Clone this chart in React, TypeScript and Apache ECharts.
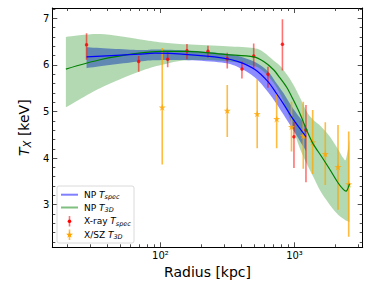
import React, { useEffect, useRef } from 'react';
import * as echarts from 'echarts';

// ---------- data ----------
// X-ray T_spec (red points)
const radiusXray = [28.1, 68.8, 113.2, 157.7, 226.2, 315.1, 405.5, 496.2, 634, 813, 991, 1218];
const tXray = [6.43, 6.07, 6.12, 6.30, 6.29, 6.13, 5.91, 6.19, 5.80, 6.44, 4.46, 4.60];
const tXrayLow = [6.11, 5.85, 5.95, 6.12, 6.16, 5.92, 5.71, 5.93, 5.51, 5.88, 3.79, 3.48];
const tXrayHigh = [6.68, 6.19, 6.27, 6.45, 6.41, 6.26, 6.07, 6.46, 5.96, 6.98, 4.78, 5.14];

// X/SZ T_3D (orange stars)
const radiusXsz = [103.1, 315.1, 526.9, 736.3, 950, 1163, 1367, 1698, 2112, 2538];
const tXsz = [5.09, 5.02, 4.95, 4.84, 4.67, 4.48, 4.34, 4.09, 3.81, 3.44];
const tXszLow = [3.86, 4.45, 4.21, 4.21, 4.14, 3.77, 3.66, 3.42, 2.89, 2.31];
const tXszHigh = [6.36, 5.57, 5.69, 5.39, 5.21, 5.21, 5.03, 4.77, 4.71, 4.57];

// NP T_3D (green line + band)
const radiusNp3d = [19.7, 35.4, 69.1, 102.6, 157.7, 313.5, 496.2, 589, 694.8, 779.6, 874.7, 979.5, 1099, 1233, 1381, 1577, 1841, 2123, 2313, 2423, 2573];
const tNp3d = [5.91, 6.11, 6.25, 6.29, 6.29, 6.22, 6.17, 6.07, 5.90, 5.72, 5.52, 5.25, 4.95, 4.60, 4.30, 4.05, 3.75, 3.46, 3.33, 3.29, 3.45];
const tNp3dHigh = [6.60, 6.66, 6.55, 6.48, 6.44, 6.40, 6.36, 6.27, 6.10, 5.98, 5.80, 5.58, 5.30, 5.00, 4.82, 4.68, 4.46, 4.18, 4.00, 3.98, 4.40];
const tNp3dLow = [5.09, 5.50, 5.85, 6.00, 6.10, 6.08, 5.98, 5.85, 5.62, 5.38, 5.05, 4.62, 4.20, 3.88, 3.60, 3.27, 2.99, 2.78, 2.70, 2.66, 2.63];

// NP T_spec (blue line + band)
const radiusNpSpec = [28.1, 68.8, 91.0, 161.2, 286.2, 380.7, 507, 634, 736, 825, 979, 1218];
const tNpSpec = [6.17, 6.23, 6.25, 6.22, 6.15, 6.07, 5.90, 5.64, 5.38, 5.17, 4.83, 4.46];
const tNpSpecHigh = [6.38, 6.32, 6.33, 6.31, 6.25, 6.19, 6.06, 5.86, 5.60, 5.40, 5.06, 4.70];
const tNpSpecLow = [5.93, 6.07, 6.10, 6.10, 6.05, 5.95, 5.73, 5.42, 5.16, 4.94, 4.60, 4.15];

// ticks
const xMajorTicks = [100, 1000];
const xMinorTicks = [20, 30, 40, 50, 60, 70, 80, 90, 200, 300, 400, 500, 600, 700, 800, 900, 2000, 3000];
const yMajorTicks = [3, 4, 5, 6, 7];
const yMinorTicks = [2.2, 2.4, 2.6, 2.8, 3.2, 3.4, 3.6, 3.8, 4.2, 4.4, 4.6, 4.8, 5.2, 5.4, 5.6, 5.8, 6.2, 6.4, 6.6, 6.8, 7.2];

const X_MIN = 15.6;
const X_MAX = 3228;
const Y_MIN = 2.086;
const Y_MAX = 7.22;

const FONT = 'DejaVu Sans';
const STAR = 'path://M12,0 L14.9,8.1 L23.4,8.3 L16.6,13.5 L19.1,21.7 L12,16.8 L4.9,21.7 L7.4,13.5 L0.6,8.3 L9.1,8.1 Z';

const SUP: Record<string, string> = { '0': '⁰', '1': '¹', '2': '²', '3': '³', '4': '⁴' };

function pairs(xs: number[], ys: number[]) {
  return xs.map((x, i) => [x, ys[i]]);
}

// Catmull-Rom smoothed segments (pixel space) starting from pts[0]
function smoothSegments(pts: number[][]): string {
  let d = '';
  const n = pts.length;
  const k = 0.16;
  for (let i = 0; i < n - 1; i++) {
    const p0 = pts[Math.max(0, i - 1)];
    const p1 = pts[i];
    const p2 = pts[i + 1];
    const p3 = pts[Math.min(n - 1, i + 2)];
    const c1x = p1[0] + (p2[0] - p0[0]) * k;
    const c1y = p1[1] + (p2[1] - p0[1]) * k;
    const c2x = p2[0] - (p3[0] - p1[0]) * k;
    const c2y = p2[1] - (p3[1] - p1[1]) * k;
    d += ` C${c1x},${c1y} ${c2x},${c2y} ${p2[0]},${p2[1]}`;
  }
  return d;
}

function bandSeries(xs: number[], lo: number[], hi: number[], color: string) {
  return {
    type: 'custom',
    data: xs.map((x, i) => [x, lo[i], hi[i]]),
    encode: { x: 0, y: [1, 2] },
    silent: true,
    clip: true,
    renderItem: (params: any, api: any) => {
      if (params.dataIndex !== 0) return null;
      const up = xs.map((x, i) => api.coord([x, hi[i]]));
      const dn = xs.map((x, i) => api.coord([x, lo[i]])).reverse();
      const pathData =
        `M${up[0][0]},${up[0][1]}` + smoothSegments(up) +
        ` L${dn[0][0]},${dn[0][1]}` + smoothSegments(dn) + ' Z';
      return { type: 'path', shape: { pathData }, style: { fill: color, stroke: 'none' } };
    },
  };
}

function errorBars(xs: number[], lo: number[], hi: number[], color: string, width: number) {
  return {
    type: 'custom',
    data: xs.map((x, i) => [x, lo[i], hi[i]]),
    encode: { x: 0, y: [1, 2] },
    silent: true,
    clip: true,
    renderItem: (_p: any, api: any) => {
      const a = api.coord([api.value(0), api.value(1)]);
      const b = api.coord([api.value(0), api.value(2)]);
      return {
        type: 'line',
        shape: { x1: a[0], y1: a[1], x2: b[0], y2: b[1] },
        style: { stroke: color, lineWidth: width },
      };
    },
  };
}

function xAxis(position: 'top' | 'bottom', ticks: number[], len: number, labels: boolean, line: boolean) {
  return {
    type: 'log', logBase: 10, min: X_MIN, max: X_MAX, position,
    axisLine: { show: line, onZero: false, lineStyle: { color: '#000', width: 1 } },
    axisTick: { show: true, inside: true, length: len, customValues: ticks, lineStyle: { color: '#222', width: 0.8 } },
    axisLabel: labels
      ? {
          show: true, customValues: ticks, margin: 3, fontSize: 10, color: '#000', fontFamily: FONT,
          formatter: (v: number) => '10' + SUP[String(Math.round(Math.log10(v)))],
        }
      : { show: false },
    splitLine: { show: false },
    minorTick: { show: false },
  };
}

function yAxis(position: 'left' | 'right', ticks: number[], len: number, labels: boolean, line: boolean) {
  return {
    type: 'value', min: Y_MIN, max: Y_MAX, position,
    axisLine: { show: line, onZero: false, lineStyle: { color: '#000', width: 1 } },
    axisTick: { show: true, inside: true, length: len, customValues: ticks, lineStyle: { color: '#222', width: 0.8 } },
    axisLabel: labels
      ? { show: true, customValues: ticks, margin: 3, fontSize: 10, color: '#000', fontFamily: FONT }
      : { show: false },
    splitLine: { show: false },
  };
}

const subRich = {
  n: { fontSize: 9, fontFamily: FONT, color: '#000' },
  i: { fontSize: 9, fontFamily: FONT, fontStyle: 'italic', color: '#000' },
  s: { fontSize: 6.5, fontFamily: FONT, fontStyle: 'italic', color: '#000', verticalAlign: 'bottom', padding: [5, 0, 0, 0] },
};

const LZ = 101;

function legendText(text: string, y: number) {
  return {
    type: 'text', x: 84, y, silent: true, z: LZ,
    style: { text, rich: subRich, verticalAlign: 'middle', align: 'left', fill: '#000', fontSize: 9, fontFamily: FONT },
  };
}

const xAxes = [
  { ...xAxis('bottom', xMajorTicks, 5, true, true), name: 'Radius [kpc]', nameLocation: 'middle', nameGap: 13,
    nameTextStyle: { fontSize: 14, color: '#000', fontFamily: FONT } },
  xAxis('bottom', xMinorTicks, 3, false, false),
  xAxis('top', xMajorTicks, 5, false, true),
  xAxis('top', xMinorTicks, 3, false, false),
];

const yAxes = [
  { ...yAxis('left', yMajorTicks, 5, true, true), name: '{i|T}{s|X} [keV]', nameLocation: 'middle', nameGap: 12, nameRotate: 90,
    nameTextStyle: {
      fontSize: 14, color: '#000', fontFamily: FONT,
      rich: {
        i: { fontSize: 14, fontFamily: FONT, fontStyle: 'italic', color: '#000' },
        s: { fontSize: 10, fontFamily: FONT, fontStyle: 'italic', color: '#000', verticalAlign: 'bottom', padding: [7, 0, 0, 0] },
      },
    } },
  yAxis('left', yMinorTicks, 3, false, false),
  yAxis('right', yMajorTicks, 5, false, true),
  yAxis('right', yMinorTicks, 3, false, false),
];

const option: any = {
  animation: false,
  backgroundColor: '#ffffff',
  textStyle: { fontFamily: FONT },
  grid: { left: 52.3, right: 11.3, top: 8, bottom: 40.7, containLabel: false },
  xAxis: xAxes,
  yAxis: yAxes,
  series: [
    bandSeries(radiusNpSpec, tNpSpecLow, tNpSpecHigh, 'rgba(0,0,255,0.45)'),
    bandSeries(radiusNp3d, tNp3dLow, tNp3dHigh, 'rgba(0,128,0,0.3)'),
    {
      type: 'line', name: 'NP T3D', data: pairs(radiusNp3d, tNp3d), symbol: 'none', smooth: 0.3,
      lineStyle: { color: '#008000', width: 1.2 }, silent: true,
    },
    {
      type: 'line', name: 'NP Tspec', data: pairs(radiusNpSpec, tNpSpec), symbol: 'none', smooth: 0.3,
      lineStyle: { color: '#0000ff', width: 1.2 }, silent: true,
    },
    errorBars(radiusXray, tXrayLow, tXrayHigh, 'rgba(255,0,0,0.55)', 1.6),
    {
      type: 'scatter', name: 'X-ray Tspec', data: pairs(radiusXray, tXray), symbol: 'circle', symbolSize: 3.5,
      itemStyle: { color: '#ff0000' }, silent: true,
    },
    errorBars(radiusXsz, tXszLow, tXszHigh, 'rgba(255,165,0,0.75)', 1.6),
    {
      type: 'scatter', name: 'X/SZ T3D', data: pairs(radiusXsz, tXsz), symbol: STAR, symbolSize: 7,
      itemStyle: { color: '#ffa500' }, silent: true,
    },
  ],
  graphic: [
    {
      type: 'rect', silent: true, z: 100,
      shape: { x: 57, y: 186, width: 77, height: 57, r: 2 },
      style: { fill: 'rgba(255,255,255,0.8)', stroke: '#d0d0d0', lineWidth: 0.8 },
    },
    { type: 'line', z: LZ, silent: true, shape: { x1: 61, y1: 194.7, x2: 78, y2: 194.7 }, style: { stroke: 'rgba(0,0,255,0.5)', lineWidth: 2 } },
    { type: 'line', z: LZ, silent: true, shape: { x1: 61, y1: 207.5, x2: 78, y2: 207.5 }, style: { stroke: 'rgba(0,128,0,0.5)', lineWidth: 2 } },
    { type: 'line', z: LZ, silent: true, shape: { x1: 69.5, y1: 216, x2: 69.5, y2: 226.5 }, style: { stroke: 'rgba(255,0,0,0.55)', lineWidth: 1.6 } },
    { type: 'circle', z: LZ, silent: true, shape: { cx: 69.5, cy: 221.3, r: 1.8 }, style: { fill: '#ff0000' } },
    { type: 'line', z: LZ, silent: true, shape: { x1: 69.5, y1: 229.5, x2: 69.5, y2: 240 }, style: { stroke: 'rgba(255,165,0,0.75)', lineWidth: 1.6 } },
    { type: 'polygon', z: LZ, silent: true, shape: { points: [[69.5, 231.3], [70.4, 233.8], [72.9, 233.8], [70.9, 235.4], [71.6, 237.8], [69.5, 236.3], [67.4, 237.8], [68.1, 235.4], [66.1, 233.8], [68.6, 233.8]] }, style: { fill: '#ffa500' } },
    legendText('{n|NP }{i|T}{s|spec}', 194.7),
    legendText('{n|NP }{i|T}{s|3D}', 207.5),
    legendText('{n|X-ray }{i|T}{s|spec}', 221.3),
    legendText('{n|X/SZ }{i|T}{s|3D}', 234.7),
  ],
};

export default function App() {
  const ref = useRef<HTMLDivElement>(null);
  useEffect(() => {
    const chart = echarts.init(ref.current as HTMLDivElement, null, { renderer: 'svg' });
    chart.setOption(option);
    return () => chart.dispose();
  }, []);
  return (
    <div
      ref={ref}
      style={{ position: 'fixed', left: 0, top: 0, width: 374, height: 288, background: '#fff' }}
    />
  );
}
